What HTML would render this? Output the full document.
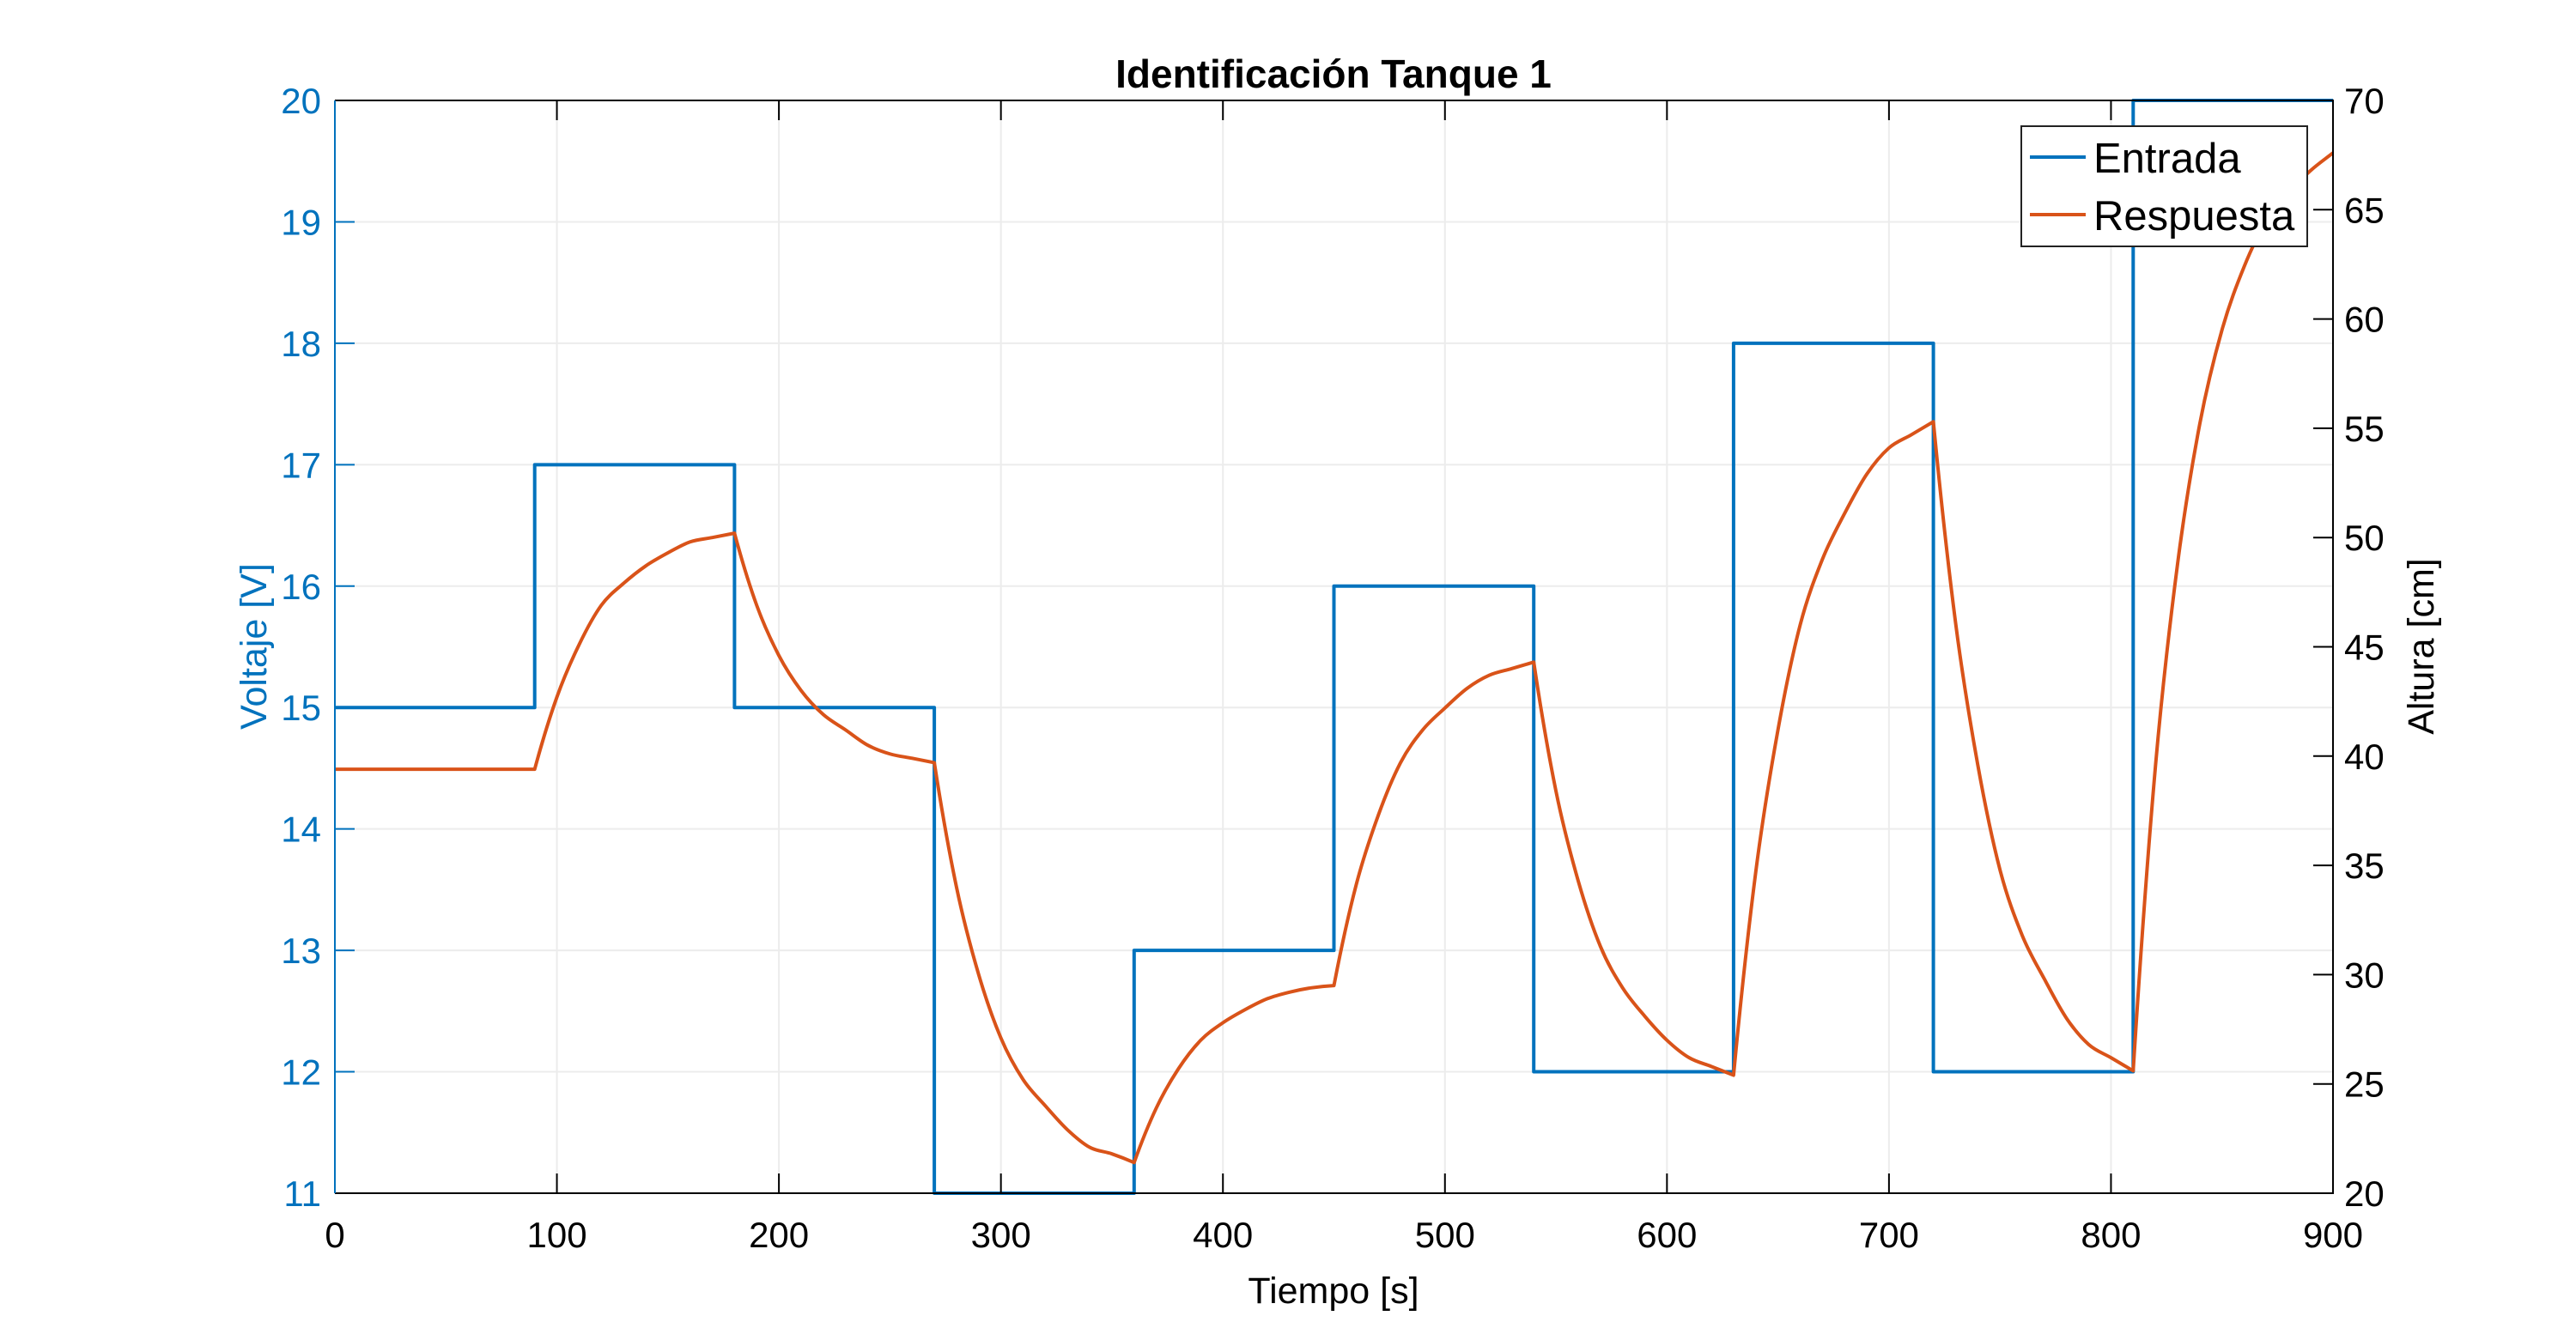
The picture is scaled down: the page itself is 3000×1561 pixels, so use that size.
<!DOCTYPE html>
<html><head><meta charset="utf-8"><style>
html,body{margin:0;padding:0;background:#fff;}
svg{display:block;font-family:"Liberation Sans",Arial,sans-serif;}
</style></head><body>
<svg id="chart" width="3000" height="1561" viewBox="0 0 3000 1561" xmlns="http://www.w3.org/2000/svg">
<rect width="3000" height="1561" fill="#fff"/>
<g id="grid"></g>
<g id="series"></g>
<g id="axes"></g>
<text x="1553" y="102" font-size="46" font-weight="bold" text-anchor="middle">Identificación Tanque 1</text>
<text x="1553" y="1518" font-size="43" text-anchor="middle">Tiempo [s]</text>
<text x="0" y="0" font-size="43" fill="#0072BD" text-anchor="middle" transform="translate(310,753) rotate(-90)">Voltaje [V]</text>
<text x="0" y="0" font-size="43" text-anchor="middle" transform="translate(2834,753) rotate(-90)">Altura [cm]</text>
<g>
<rect x="2354" y="147" width="333" height="140" fill="#fff" stroke="#222" stroke-width="2"/>
<line x1="2364" y1="183" x2="2429" y2="183" stroke="#0072BD" stroke-width="4"/>
<text x="2438" y="201" font-size="49">Entrada</text>
<line x1="2364" y1="250" x2="2429" y2="250" stroke="#D95319" stroke-width="4"/>
<text x="2438" y="268" font-size="49">Respuesta</text>
</g>
</svg>
<script>
const stepTimes = [0,90,180,270,360,450,540,630,720,810];
const stepLevels = [15,17,15,11,13,16,12,18,12,20];
const respTimes = [0,10,20,30,40,50,60,70,80,90,100,110,120,130,140,150,160,170,180,190,200,210,220,230,240,250,260,270,280,290,300,310,320,330,340,350,360,370,380,390,400,410,420,430,440,450,460,470,480,490,500,510,520,530,540,550,560,570,580,590,600,610,620,630,640,650,660,670,680,690,700,710,720,730,740,750,760,770,780,790,800,810,820,830,840,850,860,870,880,890,900];
const respValues = [39.4,39.4,39.4,39.4,39.4,39.4,39.4,39.4,39.4,39.4,
42.7,45.1,46.9,47.9,48.7,49.3,49.8,50.0,50.2,
46.9,44.6,43.0,41.9,41.2,40.5,40.1,39.9,39.7,
34.0,30.0,27.1,25.2,24.0,22.9,22.1,21.8,21.4,
23.9,25.7,27.0,27.8,28.4,28.9,29.2,29.4,29.5,
34.1,37.3,39.7,41.2,42.2,43.1,43.7,44.0,44.3,
38.4,34.3,31.3,29.4,28.1,27.0,26.2,25.8,25.4,
34.7,41.2,46.0,49.0,51.1,52.9,54.1,54.7,55.3,
46.1,39.6,34.8,31.8,29.8,28.0,26.8,26.2,25.6,
39.5,48.8,55.2,59.5,62.4,64.5,65.8,66.8,67.6];
const xTicks = [0,100,200,300,400,500,600,700,800,900];
const yLeftTicks = [11,12,13,14,15,16,17,18,19,20];
const yRightTicks = [20,25,30,35,40,45,50,55,60,65,70];

const L=390,R=2717,T=117,B=1390;
const xs=t=>L+(t-0)/(900-0)*(R-L);
const yl=v=>B-(v-11)/(20-11)*(B-T);
const yr=v=>B-(v-20)/(70-20)*(B-T);
const NS="http://www.w3.org/2000/svg";
function mk(tag,attrs,parent){const e=document.createElementNS(NS,tag);for(const k in attrs)e.setAttribute(k,attrs[k]);parent.appendChild(e);return e;}
const grid=document.getElementById('grid'),series=document.getElementById('series'),axes=document.getElementById('axes');

xTicks.forEach(t=>{
  const g=mk('line',{x1:xs(t),x2:xs(t),y1:T,y2:B,stroke:'#ececec','stroke-width':2},grid);
  
  
  const tb=mk('line',{x1:xs(t),x2:xs(t),y1:B,y2:B-23,stroke:'#000','stroke-width':2},axes);
  
  
  const tt=mk('line',{x1:xs(t),x2:xs(t),y1:T,y2:T+23,stroke:'#000','stroke-width':2},axes);
  
  
  const lb=mk('text',{x:xs(t),y:B+63,'font-size':42,'text-anchor':'middle'},axes);
  lb.textContent=t;
  
  
});
yLeftTicks.forEach(v=>{
  const g=mk('line',{x1:L,x2:R,y1:yl(v),y2:yl(v),stroke:'#ececec','stroke-width':2},grid);
  
  
  const tk=mk('line',{x1:L,x2:L+23,y1:yl(v),y2:yl(v),stroke:'#0072BD','stroke-width':2},axes);
  
  
  const lb=mk('text',{x:374,y:yl(v)+15,'font-size':42,'text-anchor':'end',fill:'#0072BD'},axes);
  lb.textContent=v;
  
  
});
yRightTicks.forEach(v=>{
  const tk=mk('line',{x1:R,x2:R-23,y1:yr(v),y2:yr(v),stroke:'#000','stroke-width':2},axes);
  
  
  const lb=mk('text',{x:2730,y:yr(v)+15,'font-size':42,'text-anchor':'start'},axes);
  lb.textContent=v;
  
  
});
const fr=mk('path',{d:`M${L},${T}H${R}V${B}H${L}`,fill:'none',stroke:'#000','stroke-width':2},axes);


const la=mk('line',{x1:L,x2:L,y1:T,y2:B,stroke:'#0072BD','stroke-width':2},axes);



let d='';
stepTimes.forEach((t,i)=>{
  const tEnd=i+1<stepTimes.length?stepTimes[i+1]:900;
  d+=(i===0?'M':'L')+xs(t)+','+yl(stepLevels[i])+'L'+xs(tEnd)+','+yl(stepLevels[i]);
});
const p1=mk('path',{d:d,fill:'none',stroke:'#0072BD','stroke-width':4,'stroke-linejoin':'round'},series);



// smooth curve through response points, breaking smoothness at step times
const isBreak=t=>stepTimes.indexOf(t)>=0;
const px=respTimes.map(xs), py=respValues.map(yr);
const n=px.length;
const tang=[];
for(let i=0;i<n;i++){
  const hasPrev=i>0, hasNext=i<n-1;
  if(isBreak(respTimes[i])||!hasPrev||!hasNext){
    tang.push({prev: hasPrev?(py[i]-py[i-1])/(px[i]-px[i-1]):0, next: hasNext?(py[i+1]-py[i])/(px[i+1]-px[i]):0});
  } else {
    const s1=(py[i]-py[i-1])/(px[i]-px[i-1]), s2=(py[i+1]-py[i])/(px[i+1]-px[i]);
    let m=(s1*s2<=0)?0:(s1+s2)/2;
    tang.push({prev:m,next:m});
  }
}
let d2='M'+px[0]+','+py[0];
for(let i=0;i<n-1;i++){
  const h=px[i+1]-px[i];
  const m0=tang[i].next, m1=tang[i+1].prev;
  // one-sided endpoints: use secant-based smoothing for break points
  let a=m0, b=m1;
  if(isBreak(respTimes[i])&&i>0){const s=(py[i+1]-py[i])/h; const s2=i+2<n?(py[i+2]-py[i+1])/(px[i+2]-px[i+1]):s; a=1.5*s-0.5*s2;}
  if(isBreak(respTimes[i+1])&&i+1<n){const s=(py[i+1]-py[i])/h; const s0=i>0?(py[i]-py[i-1])/(px[i]-px[i-1]):s; b=1.5*s-0.5*s0; if(isBreak(respTimes[i]))b=s;}
  if(i===0)a=0;
  d2+='C'+(px[i]+h/3)+','+(py[i]+a*h/3)+' '+(px[i+1]-h/3)+','+(py[i+1]-b*h/3)+' '+px[i+1]+','+py[i+1];
}
const p2=mk('path',{d:d2,fill:'none',stroke:'#D95319','stroke-width':4,'stroke-linejoin':'round'},series);


</script>
</body></html>
